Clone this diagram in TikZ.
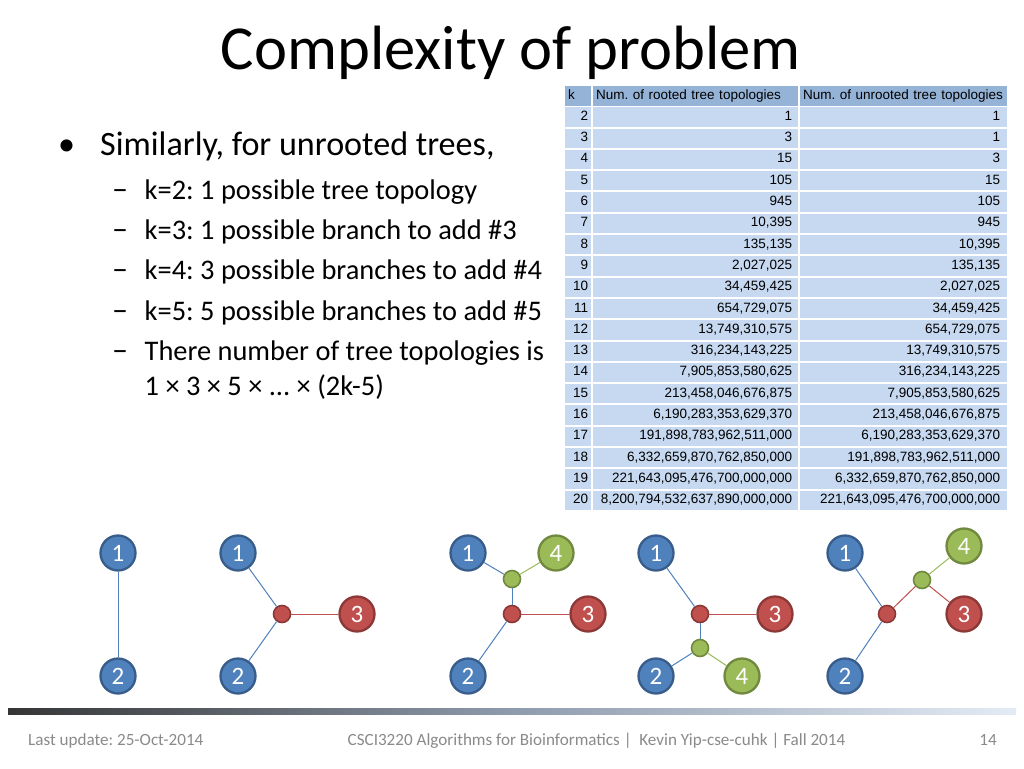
\documentclass[tikz,border=0pt]{standalone}
\usepackage{fontspec}
\setmainfont{Carlito}
\newfontfamily\tabfont{Liberation Sans}
\definecolor{blueF}{HTML}{4F81BD}
\definecolor{blueD}{HTML}{385D8A}
\definecolor{redF}{HTML}{C0504D}
\definecolor{redD}{HTML}{8C3836}
\definecolor{greenF}{HTML}{9BBB59}
\definecolor{greenD}{HTML}{71893F}
\definecolor{hdrblue}{HTML}{95B3D7}
\definecolor{rowblue}{HTML}{C6D9F1}
\definecolor{footgray}{HTML}{8A8A8A}
\definecolor{barL}{HTML}{353535}
\definecolor{barM}{HTML}{8E9BAD}
\definecolor{barR}{HTML}{E3EBF5}
\tikzset{
  tabtxt/.style={font=\tabfont\frenchspacing\fontsize{13.5}{14}\selectfont, inner ysep=0pt, text height=10pt, text depth=3pt},
  kcell/.style={tabtxt, fill=rowblue, minimum height=19.3pt, text width=20pt, inner xsep=3pt, align=right, anchor=north west},
  rcell/.style={tabtxt, fill=rowblue, minimum height=19.3pt, text width=193pt, inner xsep=6pt, align=right, anchor=north west},
  ucell/.style={tabtxt, fill=rowblue, minimum height=19.3pt, text width=193pt, inner xsep=7pt, align=right, anchor=north west},
  hcell/.style={tabtxt, fill=hdrblue, minimum height=19.5pt, inner xsep=3pt, align=left, anchor=north west},
  bul/.style={font=\frenchspacing\fontsize{34.1}{40}\selectfont, inner sep=0pt},
  sub/.style={font=\frenchspacing\fontsize{28.4}{34}\selectfont, inner sep=0pt},
  dashmark/.style={font=\fontsize{32}{34}\selectfont, inner sep=0pt},
  foot/.style={font=\frenchspacing\fontsize{17.1}{20}\selectfont, text=footgray, inner sep=0pt},
  leaf/.style={circle, minimum size=35pt, inner sep=0pt, line width=2.3pt, text=white, font=\fontsize{25}{25}\selectfont},
  bleaf/.style={leaf, draw=blueD, fill=blueF},
  rleaf/.style={leaf, draw=redD, fill=redF},
  gleaf/.style={leaf, draw=greenD, fill=greenF},
  inner/.style={circle, minimum size=17pt, inner sep=0pt, line width=1.6pt},
  rin/.style={inner, draw=redD, fill=redF},
  gin/.style={inner, draw=greenD, fill=greenF},
  bedge/.style={draw=blueF, line width=1pt},
  redge/.style={draw=redF, line width=1pt},
  gedge/.style={draw=greenF, line width=1pt},
}
\newcommand\tabrow[4]{%
  \node[kcell] (k#1) at (565,107+21.3*#1) {#2};
  \node[rcell] (r#1) at (593,107+21.3*#1) {#3};
  \node[ucell] (u#1) at (800,107+21.3*#1) {#4};
}
\begin{document}
\begin{tikzpicture}[x=1pt,y=-1pt]
\useasboundingbox (0,0) rectangle (1024,768);
\fill[white] (0,0) rectangle (1024,768);
% title
\node[anchor=base, font=\fontsize{62.6}{70}\selectfont, inner sep=0pt] (title) at (511,70) {Complexity of problem};
% bullets
\node[bul, anchor=base] (dot0) at (66.5,155) {•};
\node[bul, anchor=base west] (b0) at (100,155) {Similarly, for unrooted trees,};
\node[dashmark, anchor=base] (d1) at (120,199) {–};
\node[sub, anchor=base west] (s1) at (144.5,199) {k=2: 1 possible tree topology};
\node[dashmark, anchor=base] (d2) at (120,239) {–};
\node[sub, anchor=base west] (s2) at (144.5,239) {k=3: 1 possible branch to add \#3};
\node[dashmark, anchor=base] (d3) at (120,279.5) {–};
\node[sub, anchor=base west] (s3) at (144.5,279.5) {k=4: 3 possible branches to add \#4};
\node[dashmark, anchor=base] (d4) at (120,320) {–};
\node[sub, anchor=base west] (s4) at (144.5,320) {k=5: 5 possible branches to add \#5};
\node[dashmark, anchor=base] (d5) at (120,360.5) {–};
\node[sub, anchor=base west] (s5) at (144.5,360.5) {There number of tree topologies is};
\node[sub, anchor=base west] (s6) at (144.5,395.5) {1 × 3 × 5 × ... × (2k-5)};
% table
\node[hcell, text width=20pt] (hk) at (565,86) {k};
\node[hcell, text width=199pt] (hr) at (593,86) {\mbox{Num. of rooted tree topologies}};
\node[hcell, text width=201pt] (hu) at (800,86) {\mbox{Num. of unrooted tree topologies}};
\tabrow{0}{2}{1}{1}
\tabrow{1}{3}{3}{1}
\tabrow{2}{4}{15}{3}
\tabrow{3}{5}{105}{15}
\tabrow{4}{6}{945}{105}
\tabrow{5}{7}{10,395}{945}
\tabrow{6}{8}{135,135}{10,395}
\tabrow{7}{9}{2,027,025}{135,135}
\tabrow{8}{10}{34,459,425}{2,027,025}
\tabrow{9}{11}{654,729,075}{34,459,425}
\tabrow{10}{12}{13,749,310,575}{654,729,075}
\tabrow{11}{13}{316,234,143,225}{13,749,310,575}
\tabrow{12}{14}{7,905,853,580,625}{316,234,143,225}
\tabrow{13}{15}{213,458,046,676,875}{7,905,853,580,625}
\tabrow{14}{16}{6,190,283,353,629,370}{213,458,046,676,875}
\tabrow{15}{17}{191,898,783,962,511,000}{6,190,283,353,629,370}
\tabrow{16}{18}{6,332,659,870,762,850,000}{191,898,783,962,511,000}
\tabrow{17}{19}{221,643,095,476,700,000,000}{6,332,659,870,762,850,000}
\tabrow{18}{20}{8,200,794,532,637,890,000,000}{221,643,095,476,700,000,000}
% tree A
\node[bleaf] (a1) at (118,553) {1};
\node[bleaf] (a2) at (118,676) {2};
\draw[bedge] (a1) -- (a2);
% tree B
\node[bleaf] (b1) at (238,553) {1};
\node[bleaf] (b2) at (238,676) {2};
\node[rin] (bi) at (282,614) {};
\node[rleaf] (b3) at (357,614) {3};
\draw[bedge] (b1) -- (bi);
\draw[bedge] (b2) -- (bi);
\draw[redge] (bi) -- (b3);
% tree C
\node[bleaf] (c1) at (468,553) {1};
\node[gleaf] (c4) at (556,553) {4};
\node[gin] (cg) at (512,579) {};
\node[rin] (cr) at (512,614) {};
\node[rleaf] (c3) at (588,614) {3};
\node[bleaf] (c2) at (468,676) {2};
\draw[bedge] (c1) -- (cg);
\draw[gedge] (cg) -- (c4);
\draw[bedge] (cg) -- (cr);
\draw[redge] (cr) -- (c3);
\draw[bedge] (cr) -- (c2);
% tree D
\node[bleaf] (d1n) at (656,553) {1};
\node[rin] (dr) at (700,614) {};
\node[rleaf] (d3n) at (775,614) {3};
\node[gin] (dg) at (700,648) {};
\node[bleaf] (d2n) at (656,676) {2};
\node[gleaf] (d4n) at (742,676) {4};
\draw[bedge] (d1n) -- (dr);
\draw[redge] (dr) -- (d3n);
\draw[bedge] (dr) -- (dg);
\draw[bedge] (dg) -- (d2n);
\draw[gedge] (dg) -- (d4n);
% tree E
\node[bleaf] (e1) at (845,553) {1};
\node[rin] (er) at (887,614) {};
\node[gin] (eg) at (922,580) {};
\node[gleaf] (e4) at (964,546) {4};
\node[rleaf] (e3) at (964,614) {3};
\node[bleaf] (e2) at (845,676) {2};
\draw[bedge] (e1) -- (er);
\draw[bedge] (e2) -- (er);
\draw[redge] (er) -- (eg);
\draw[gedge] (eg) -- (e4);
\draw[redge] (eg) -- (e3);
% footer
\shade[left color=barL, right color=barR, middle color=barM] (8,708) rectangle (1016,714);
\node[foot, anchor=base west] (f1) at (28,745) {Last update: 25-Oct-2014};
\node[foot, anchor=base] (f2) at (596.5,745) {CSCI3220 Algorithms for Bioinformatics |\ \ Kevin Yip-cse-cuhk | Fall 2014};
\node[foot, anchor=base east] (f3) at (997,745) {14};
\end{tikzpicture}
\end{document}
